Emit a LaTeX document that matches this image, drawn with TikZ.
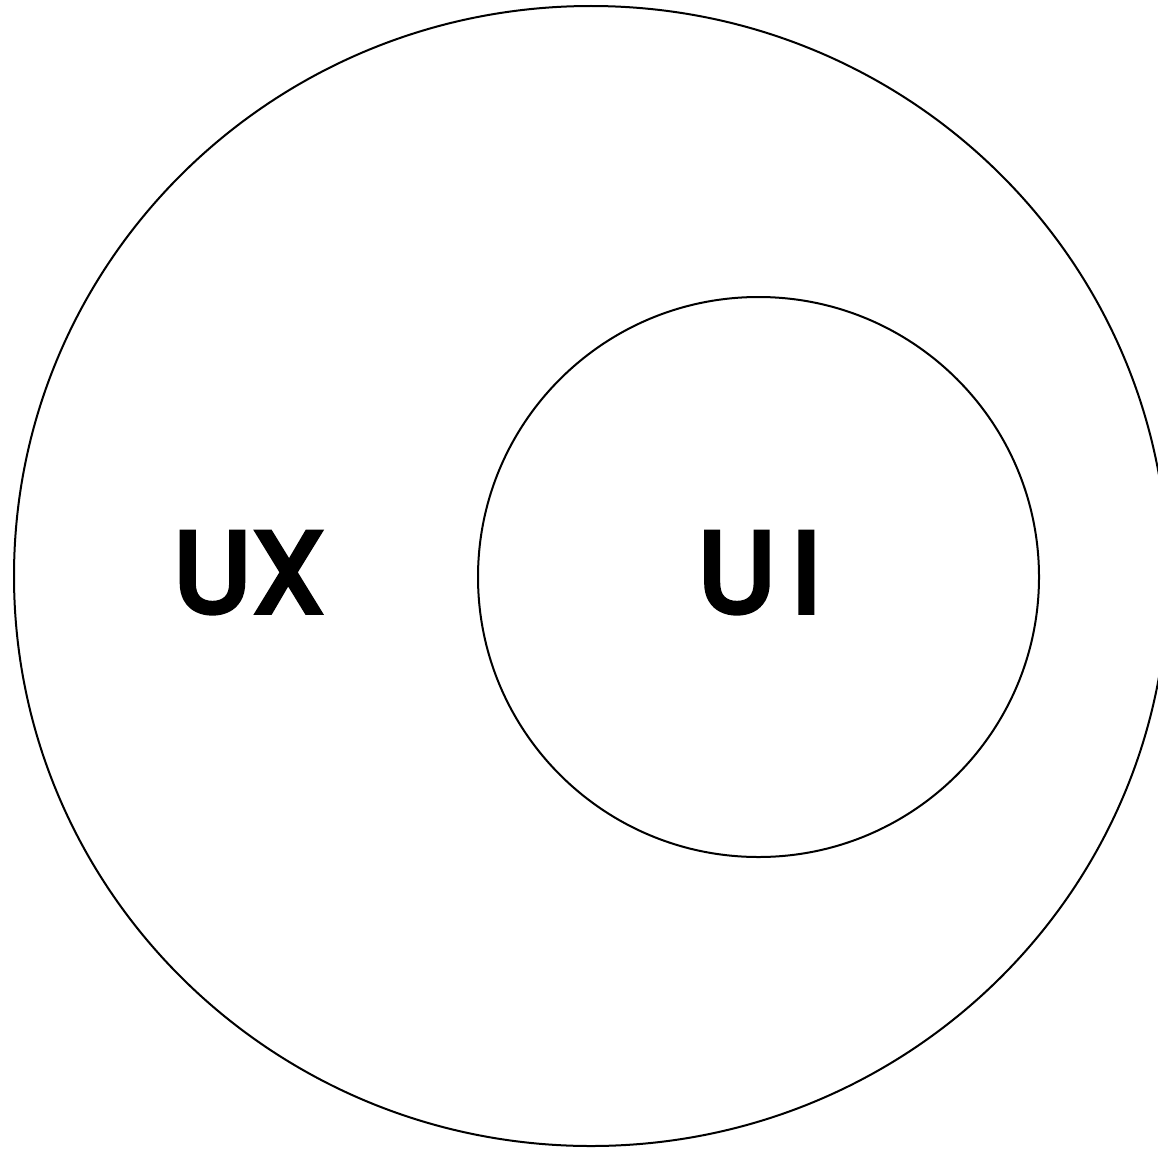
\documentclass[tikz,border=0pt]{standalone}
\usepackage{fontspec}
\newfontfamily\lblfont{Poppins}[FakeBold=5]
\usetikzlibrary{shapes.geometric}
\begin{document}
\begin{tikzpicture}[x=1pt,y=-1pt,
  ring/.style={ellipse, draw=black, line width=2pt, inner sep=0pt},
  lbl/.style={anchor=base, inner sep=0pt, font=\lblfont\fontsize{114}{114}\selectfont}]
\useasboundingbox[fill=white] (0,0) rectangle (1158,1148);
\clip (0,0) rectangle (1158,1148);
\node[ring, minimum width=1154pt, minimum height=1140pt] (ux) at (591,576) {};
\node[ring, minimum width=561pt, minimum height=560pt] (ui) at (758.5,577) {};
\node[lbl] (uxl) at (249,612) {U\hspace{0.02em}X};
\node[lbl] (uil) at (759.5,612) {U\hspace{0.15em}I};
\end{tikzpicture}
\end{document}
